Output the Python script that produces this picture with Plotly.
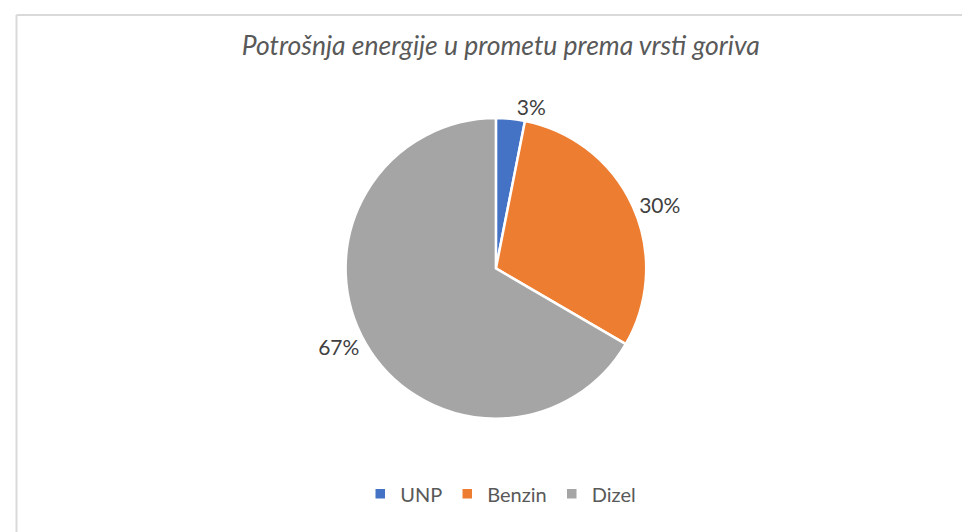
import plotly.graph_objects as go

goriva = ["UNP", "Benzin", "Dizel"]
udio = [3.1, 30.3, 66.6]
boje = ["#4472C4", "#ED7D31", "#A5A5A5"]

fig = go.Figure()
fig.add_trace(go.Pie(
    labels=goriva,
    values=udio,
    marker=dict(colors=boje, line=dict(color="white", width=2.5)),
    sort=False,
    direction="clockwise",
    rotation=0,
    textposition="outside",
    texttemplate="%{percent:.0%}",
    textfont=dict(size=21, color="#404040"),
    domain=dict(x=[0.238, 0.768], y=[0.228, 0.793]),
    hoverinfo="label+percent",
))

fig.update_layout(
    width=970,
    height=532,
    margin=dict(l=0, r=0, t=0, b=0),
    paper_bgcolor="white",
    font=dict(family="Lato, Open Sans, sans-serif", color="#595959"),
    title=dict(
        text="<i>Potrošnja energije u prometu prema vrsti goriva</i>",
        x=0.508, xanchor="center", y=0.93, yanchor="middle",
        font=dict(size=26.5, color="#595959"),
    ),
    legend=dict(
        orientation="h", x=0.508, xanchor="center", y=0.087, yanchor="middle",
        font=dict(size=20, color="#595959"),
    ),
    shapes=[
        dict(type="line", xref="paper", yref="paper", x0=8.5 / 970, x1=1, y0=1 - 7 / 532, y1=1 - 7 / 532,
             line=dict(color="#D9D9D9", width=2)),
        dict(type="line", xref="paper", yref="paper", x0=8.5 / 970, x1=8.5 / 970, y0=0, y1=1 - 7 / 532,
             line=dict(color="#D9D9D9", width=2)),
    ],
)

fig.write_html("out.html")
